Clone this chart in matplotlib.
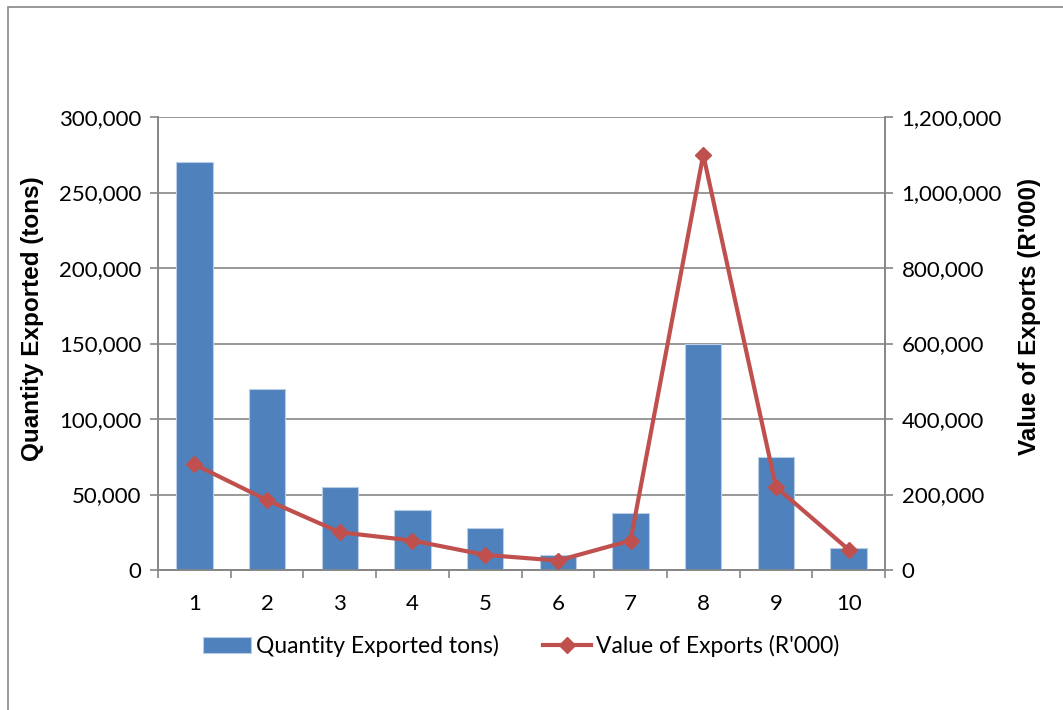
import matplotlib
matplotlib.use('Agg')
import matplotlib.pyplot as plt
import matplotlib.ticker as ticker
from matplotlib.patches import Rectangle

# ==========================================
# Data
# ==========================================
CATEGORIES = [1, 2, 3, 4, 5, 6, 7, 8, 9, 10]
QUANTITY_TONS = [270000, 120000, 55000, 40000, 27500, 10000, 37700, 150000, 75000, 14500]
VALUE_R000 = [280000, 185000, 100000, 78000, 40000, 25000, 78000, 1100000, 220000, 54000]

BAR_COLOR = '#4F81BD'
LINE_COLOR = '#C0504D'
AXIS_GRAY = '#868686'

plt.rcParams['font.family'] = ['Lato', 'DejaVu Sans']

fig = plt.figure(figsize=(10.63, 7.10), dpi=100)

# outer chart frame
fig.patches.append(Rectangle((8 / 1063, -0.01), 1.1, 1 - 7 / 710 + 0.01,
                             transform=fig.transFigure, fill=False,
                             edgecolor=AXIS_GRAY, linewidth=1.2))

ax = fig.add_axes([158 / 1063, 140 / 710, 727 / 1063, 453 / 710])
ax2 = ax.twinx()

x = list(range(len(CATEGORIES)))
bars = ax.bar(x, QUANTITY_TONS, width=0.5, color=BAR_COLOR,
              edgecolor='#B9CDE5', linewidth=0.8, zorder=3,
              label='Quantity Exported tons)')
line, = ax2.plot(x, VALUE_R000, color=LINE_COLOR, linewidth=3,
                 marker='D', markersize=8, zorder=4,
                 label="Value of Exports (R'000)")

ax.set_xlim(-0.5, len(CATEGORIES) - 0.5)
ax.set_ylim(0, 300000)
ax2.set_ylim(0, 1200000)
ax.yaxis.set_major_locator(ticker.MultipleLocator(50000))
ax2.yaxis.set_major_locator(ticker.MultipleLocator(200000))
fmt = ticker.FuncFormatter(lambda v, p: f'{int(v):,}')
ax.yaxis.set_major_formatter(fmt)
ax2.yaxis.set_major_formatter(fmt)

ax.set_xticks(x)
ax.set_xticklabels([str(c) for c in CATEGORIES])
ax.set_xticks([i - 0.5 for i in range(len(CATEGORIES) + 1)], minor=True)
ax.tick_params(axis='x', which='major', length=0, pad=17, labelsize=16)
ax.tick_params(axis='x', which='minor', length=6, color=AXIS_GRAY, width=1.2)
ax.tick_params(axis='y', length=6, color=AXIS_GRAY, width=1.2, labelsize=16, pad=6)
ax2.tick_params(axis='y', length=6, color=AXIS_GRAY, width=1.2, labelsize=16, pad=6)

ax.grid(axis='y', color=AXIS_GRAY, linewidth=1.2, zorder=0)
ax.set_axisbelow(True)

for a in (ax, ax2):
    a.spines['top'].set_visible(False)
    for s in ('left', 'right', 'bottom'):
        a.spines[s].set_color(AXIS_GRAY)
        a.spines[s].set_linewidth(1.2)

ax.set_ylabel('Quantity Exported (tons)', fontsize=17.5, fontweight='bold',
              fontfamily='Liberation Sans', va='center')
ax2.set_ylabel("Value of Exports (R'000)", fontsize=17.5, fontweight='bold',
               fontfamily='Liberation Sans', rotation=90, va='center')
# titles sit a little above the plot's vertical centre
ax.yaxis.set_label_coords(-0.172, 0.556)
ax2.yaxis.set_label_coords(1.199, 0.56)

fig.legend([bars, line], [bars.get_label(), line.get_label()],
           loc='center', bbox_to_anchor=(521 / 1063, 1 - 646 / 710),
           ncol=2, frameon=False, fontsize=16.5, handlelength=2.1,
           columnspacing=1.9, handletextpad=0.22)

fig.savefig('out.png', dpi=100)
